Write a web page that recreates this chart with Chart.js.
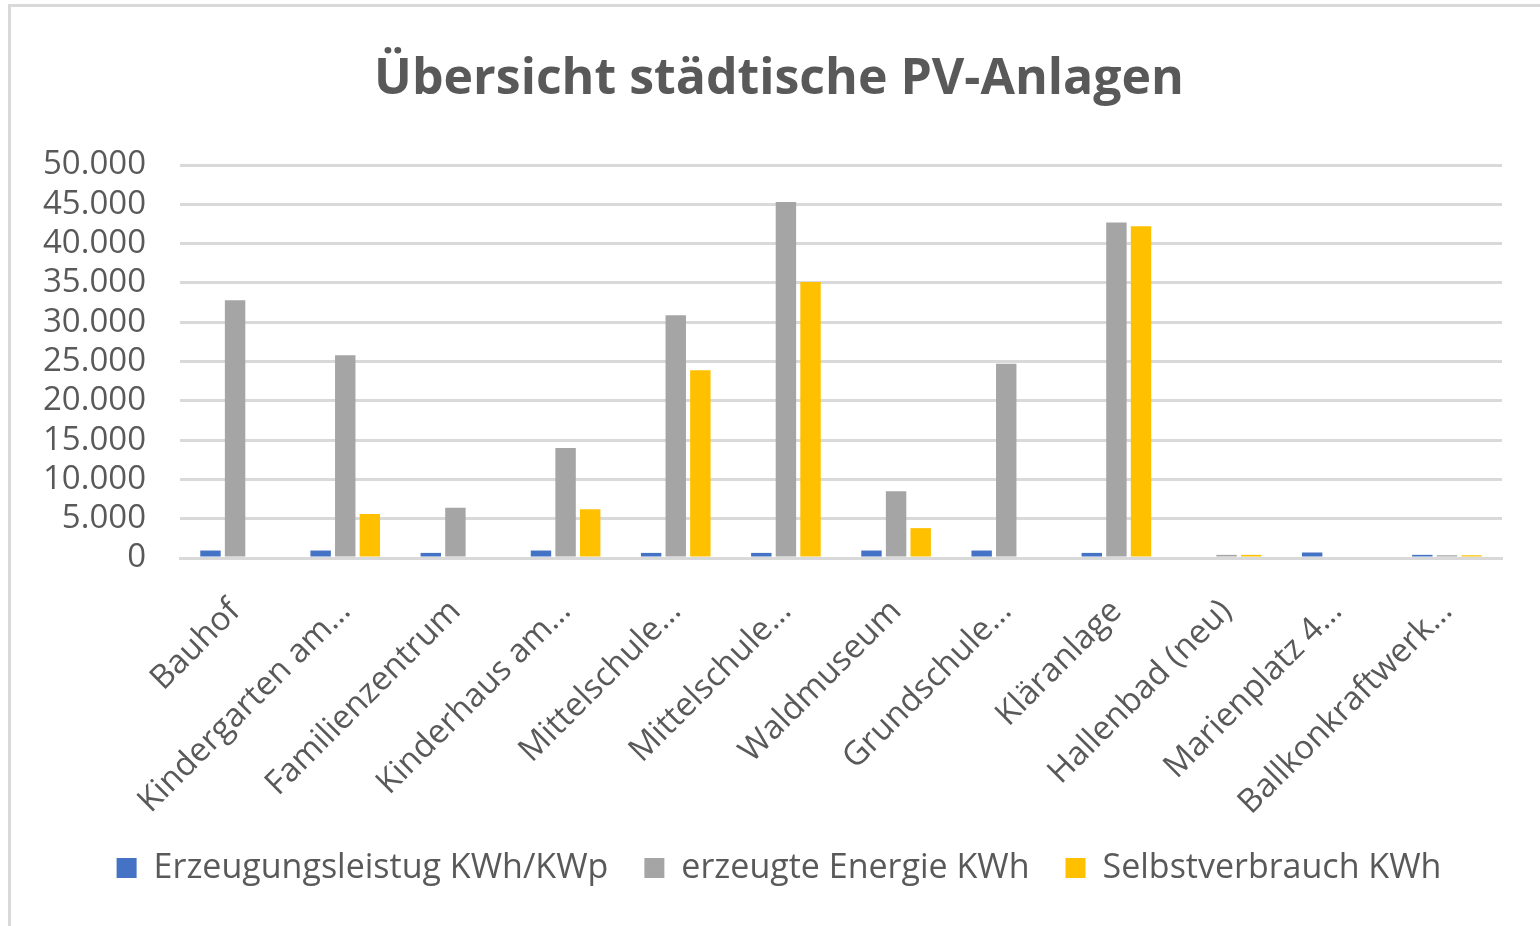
<!DOCTYPE html>
<html>
<head>
<meta charset="utf-8">
<script src="https://cdn.jsdelivr.net/npm/chart.js@4"></script>
<style>
  html, body { margin: 0; padding: 0; background: #fff; }
  #wrap { position: relative; width: 1540px; height: 926px; overflow: hidden; }
  #frame { position: absolute; left: 8px; top: 4px; width: 1600px; height: 1000px; border: 3px solid #d9d9d9; box-sizing: border-box; pointer-events: none; }
  canvas { position: absolute; left: 0; top: 0; }
</style>
</head>
<body>
<div id="wrap">
  <canvas id="c" width="1540" height="926"></canvas>
  <div id="frame"></div>
</div>
<script>
const title = "Übersicht städtische PV-Anlagen";
const categories = ["Bauhof", "Kindergarten am…", "Familienzentrum", "Kinderhaus am…", "Mittelschule…", "Mittelschule…", "Waldmuseum", "Grundschule…", "Kläranlage", "Hallenbad (neu)", "Marienplatz 4…", "Ballkonkraftwerk…"];
const seriesNames = ["Erzeugungsleistug KWh/KWp", "erzeugte Energie KWh", "Selbstverbrauch KWh"];
const erzeugungsleistung = [950, 950, 650, 950, 650, 650, 950, 950, 650, 0, 700, 400];
const erzeugteEnergie = [32800, 25800, 6400, 14000, 30900, 45300, 8500, 24700, 42700, 400, 0, 350];
const selbstverbrauch = [0, 5600, 0, 6200, 23900, 35100, 3800, 0, 42200, 400, 0, 350];
const yTicks = [0, 5000, 10000, 15000, 20000, 25000, 30000, 35000, 40000, 45000, 50000];
const colors = ["#4472C4", "#A5A5A5", "#FFC000"];

const fontFamily = "'Open Sans', 'Noto Sans', sans-serif";
const textColor = "#595959";

const mk = (label, data, color) => ({
  label, data, backgroundColor: color, borderWidth: 0,
  barPercentage: 0.83, categoryPercentage: 0.67, yAxisID: 'y'
});

new Chart(document.getElementById('c'), {
  type: 'bar',
  data: {
    labels: categories,
    datasets: [
      mk(seriesNames[0], erzeugungsleistung, colors[0]),
      mk(seriesNames[1], erzeugteEnergie, colors[1]),
      mk(seriesNames[2], selbstverbrauch, colors[2])
    ]
  },
  options: {
    responsive: false,
    animation: false,
    layout: { padding: { left: 28, right: 10, top: 5, bottom: 31 } },
    plugins: {
      tooltip: { enabled: false },
      title: {
        display: true, text: title, color: textColor,
        font: { family: fontFamily, size: 50, weight: 'bold' },
        padding: { top: 45, bottom: 55 }
      },
      legend: {
        position: 'bottom',
        labels: {
          color: textColor,
          font: { family: fontFamily, size: 34 },
          boxWidth: 20, boxHeight: 20, padding: 36
        }
      }
    },
    scales: {
      x: {
        grid: { display: false },
        border: { display: true, color: '#d9d9d9', width: 3 },
        ticks: {
          color: textColor, font: { family: fontFamily, size: 33 },
          minRotation: 45, maxRotation: 45, autoSkip: false, padding: 26
        },
        afterFit: (s) => { s.height = 257; }
      },
      y: {
        min: 0, max: 50000,
        afterBuildTicks: (s) => { s.ticks = yTicks.map(v => ({ value: v })); },
        grid: { color: '#d9d9d9', lineWidth: 3, drawTicks: false },
        border: { display: false },
        ticks: {
          color: textColor, font: { family: fontFamily, size: 33 }, padding: 34,
          autoSkip: false,
          callback: (v) => v.toLocaleString('de-DE')
        },
        afterFit: (s) => { s.width = 152; }
      },
      yRight: {
        position: 'right', display: true,
        grid: { display: false, drawTicks: false },
        border: { display: false },
        ticks: { display: false },
        afterFit: (s) => { s.width = 28; }
      }
    }
  }
});
</script>
</body>
</html>
